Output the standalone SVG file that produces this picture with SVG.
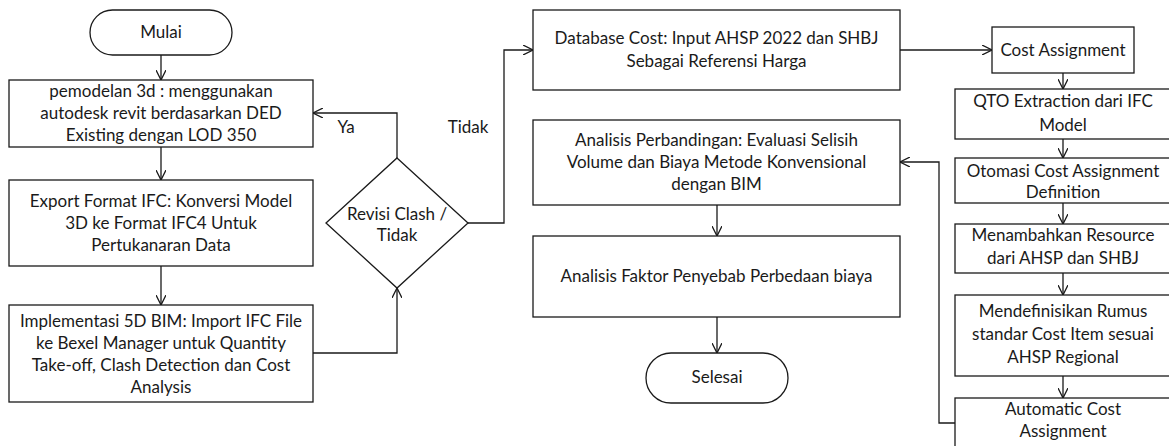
<svg xmlns="http://www.w3.org/2000/svg" width="1169" height="446" viewBox="0 0 1169 446">
<style>
.n{fill:#fff;stroke:#1a1a1a;stroke-width:1.3}
.c{fill:none;stroke:#1a1a1a;stroke-width:1.3}
text{font-family:Lato,"Liberation Sans",sans-serif;font-size:17px;fill:#1a1a1a;text-anchor:middle}
</style>
<defs>
<marker id="a" viewBox="0 0 10 10" refX="10" refY="5" markerWidth="10" markerHeight="10" markerUnits="userSpaceOnUse" orient="auto">
<path d="M0,0 L10,5 L0,10" fill="none" stroke="#1a1a1a" stroke-width="1.3"/>
</marker>
</defs>
<rect width="1169" height="446" fill="#fff"/>
<g id="connectors">
<path class="c" d="M161,55 V80" marker-end="url(#a)"/>
<path class="c" d="M161,147 V180" marker-end="url(#a)"/>
<path class="c" d="M161,266 V305" marker-end="url(#a)"/>
<path class="c" d="M313,353 H397 V288" marker-end="url(#a)"/>
<path class="c" d="M397,158 V113 H313" marker-end="url(#a)"/>
<path class="c" d="M468,223 H504 V50 H533" marker-end="url(#a)"/>
<path class="c" d="M900,50 H992" marker-end="url(#a)"/>
<path class="c" d="M1063,73 V89" marker-end="url(#a)"/>
<path class="c" d="M1063,139 V158" marker-end="url(#a)"/>
<path class="c" d="M1063,203 V224" marker-end="url(#a)"/>
<path class="c" d="M1063,273 V295" marker-end="url(#a)"/>
<path class="c" d="M1063,376 V398" marker-end="url(#a)"/>
<path class="c" d="M956,423 H939 V162 H900" marker-end="url(#a)"/>
<path class="c" d="M717,205 V236" marker-end="url(#a)"/>
<path class="c" d="M717,317 V353" marker-end="url(#a)"/>
<text x="346" y="133">Ya</text>
<text x="468" y="133">Tidak</text>
</g>
<g id="mulai"><rect class="n" x="90" y="10" width="142" height="45" rx="22.5"/><text x="161" y="38">Mulai</text></g>
<g id="pemodelan"><rect class="n" x="9" y="80" width="304" height="67"/>
<text x="161" y="97">pemodelan 3d : menggunakan</text>
<text x="161" y="119">autodesk revit berdasarkan DED</text>
<text x="161" y="141">Existing dengan LOD 350</text></g>
<g id="export"><rect class="n" x="9" y="180" width="304" height="86"/>
<text x="161" y="207">Export Format IFC: Konversi Model</text>
<text x="161" y="229">3D ke Format IFC4 Untuk</text>
<text x="161" y="251">Pertukanaran Data</text></g>
<g id="implementasi"><rect class="n" x="9" y="305" width="304" height="97"/>
<text x="161" y="327">Implementasi 5D BIM: Import IFC File</text>
<text x="161" y="349">ke Bexel Manager untuk Quantity</text>
<text x="161" y="371">Take-off, Clash Detection dan Cost</text>
<text x="161" y="393">Analysis</text></g>
<g id="revisi"><path class="n" d="M397,158 L468,223 L397,288 L326,223 Z"/>
<text x="397" y="220">Revisi Clash /</text>
<text x="397" y="241">Tidak</text></g>
<g id="database"><rect class="n" x="533" y="10" width="367" height="80"/>
<text x="716.5" y="44">Database Cost: Input AHSP 2022 dan SHBJ</text>
<text x="716.5" y="67">Sebagai Referensi Harga</text></g>
<g id="perbandingan"><rect class="n" x="533" y="120" width="367" height="85"/>
<text x="716.5" y="146">Analisis Perbandingan: Evaluasi Selisih</text>
<text x="716.5" y="168">Volume dan Biaya Metode Konvensional</text>
<text x="716.5" y="190">dengan BIM</text></g>
<g id="faktor"><rect class="n" x="533" y="236" width="367" height="81"/>
<text x="716.5" y="282">Analisis Faktor Penyebab Perbedaan biaya</text></g>
<g id="selesai"><rect class="n" x="646" y="353" width="142" height="50" rx="25"/><text x="717" y="383">Selesai</text></g>
<g id="cost-assignment"><rect class="n" x="992" y="27" width="142" height="46"/><text x="1063" y="56">Cost Assignment</text></g>
<g id="qto"><rect class="n" x="955" y="89" width="216" height="50"/>
<text x="1063" y="107">QTO Extraction dari IFC</text>
<text x="1063" y="131">Model</text></g>
<g id="otomasi"><rect class="n" x="955" y="158" width="216" height="45"/>
<text x="1063" y="177">Otomasi Cost Assignment</text>
<text x="1063" y="198">Definition</text></g>
<g id="menambahkan"><rect class="n" x="955" y="224" width="216" height="49"/>
<text x="1063" y="241">Menambahkan Resource</text>
<text x="1063" y="264">dari AHSP dan SHBJ</text></g>
<g id="mendefinisikan"><rect class="n" x="955" y="295" width="216" height="81"/>
<text x="1063" y="317">Mendefinisikan Rumus</text>
<text x="1063" y="340">standar Cost Item sesuai</text>
<text x="1063" y="363">AHSP Regional</text></g>
<g id="automatic"><rect class="n" x="955" y="398" width="216" height="60"/>
<text x="1063" y="415">Automatic Cost</text>
<text x="1063" y="437">Assignment</text></g>
</svg>
